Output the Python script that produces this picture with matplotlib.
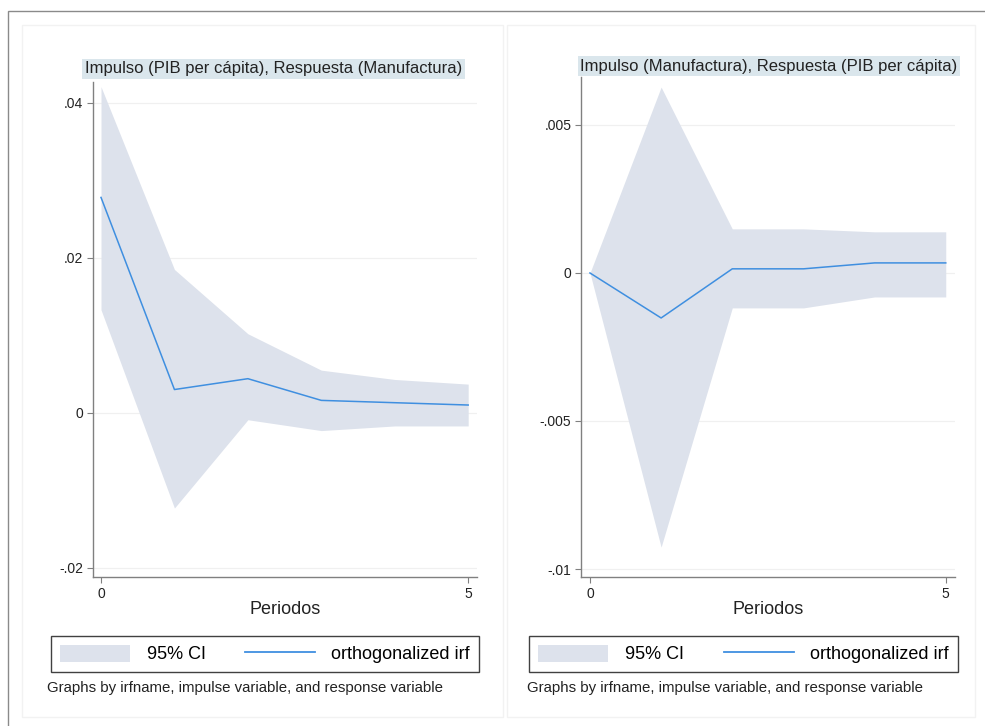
import matplotlib
matplotlib.use("Agg")
import matplotlib.pyplot as plt
from matplotlib.lines import Line2D
from matplotlib.patches import Patch, Rectangle

plt.rcParams["font.family"] = ["Liberation Sans", "DejaVu Sans"]

W, H = 985, 726

periods = [0, 1, 2, 3, 4, 5]

# Impulso PIB per cápita -> respuesta Manufactura
irf_pib_manu = [0.0278, 0.0030, 0.0044, 0.0016, 0.0013, 0.0010]
lo_pib_manu = [0.0133, -0.0123, -0.0009, -0.0023, -0.0017, -0.0017]
hi_pib_manu = [0.0421, 0.0185, 0.0102, 0.0055, 0.0043, 0.0037]

# Impulso Manufactura -> respuesta PIB per cápita
irf_manu_pib = [0.0, -0.00152, 0.00014, 0.00014, 0.00034, 0.00034]
lo_manu_pib = [0.0, -0.00926, -0.00118, -0.00118, -0.00081, -0.00081]
hi_manu_pib = [0.0, 0.00628, 0.00149, 0.00149, 0.00139, 0.00139]

titles = [
    "Impulso (PIB per cápita), Respuesta (Manufactura)",
    "Impulso (Manufactura), Respuesta (PIB per cápita)",
]
yticks_left = [-0.02, 0, 0.02, 0.04]
yticklabels_left = ["-.02", "0", ".02", ".04"]
yticks_right = [-0.01, -0.005, 0, 0.005]
yticklabels_right = ["-.01", "-.005", "0", ".005"]
xticks = [0, 5]

CI_COLOR = "#dde2ec"
IRF_COLOR = "#3f8fe0"
TITLE_BG = "#dae6ec"
AXIS_GRAY = "#808080"


def fx(px):
    return px / W


def fy(py):
    return 1 - py / H


def px_axes(fig, x0, y0, x1, y1):
    return fig.add_axes([fx(x0), fy(y1), fx(x1 - x0), (y1 - y0) / H])


fig = plt.figure(figsize=(W / 100, H / 100), dpi=100)
fig.patch.set_facecolor("white")

# outer frame and the two faint panel boxes
fig.add_artist(Rectangle((fx(8), fy(740)), fx(990), (740 - 11) / H,
                         transform=fig.transFigure, fill=False,
                         edgecolor="#8a8a8a", lw=1.0))
for x0, x1 in [(22, 503), (507, 975)]:
    fig.add_artist(Rectangle((fx(x0), fy(717)), fx(x1 - x0), (717 - 25) / H,
                             transform=fig.transFigure, fill=False,
                             edgecolor="#f2f2f2", lw=1.0))

panels = [
    dict(box=(93, 82, 477, 577), irf=irf_pib_manu, lo=lo_pib_manu, hi=hi_pib_manu,
         ylim=(-0.0212, 0.0427), xlim=(-0.109, 5.12),
         yticks=yticks_left, ylabels=yticklabels_left,
         title=titles[0], title_xy=(273.5, 69), legend=(51, 636, 479, 672),
         note_x=47),
    dict(box=(581, 77, 955, 577), irf=irf_manu_pib, lo=lo_manu_pib, hi=hi_manu_pib,
         ylim=(-0.01027, 0.00662), xlim=(-0.126, 5.13),
         yticks=yticks_right, ylabels=yticklabels_right,
         title=titles[1], title_xy=(769, 66), legend=(529, 636, 958, 672),
         note_x=527),
]

for p in panels:
    ax = px_axes(fig, *p["box"])
    ax.fill_between(periods, p["lo"], p["hi"], color=CI_COLOR, lw=0,
                    label="95% CI", zorder=2)
    ax.plot(periods, p["irf"], color=IRF_COLOR, lw=1.1,
            label="orthogonalized irf", zorder=3)
    ax.set_xlim(*p["xlim"])
    ax.set_ylim(*p["ylim"])
    ax.set_xticks(xticks)
    ax.set_xticklabels([str(t) for t in xticks])
    ax.set_yticks(p["yticks"])
    ax.set_yticklabels(p["ylabels"])
    ax.yaxis.grid(True, color="#f0f0f0", lw=0.9, zorder=0)
    ax.set_axisbelow(True)
    for side in ["top", "right"]:
        ax.spines[side].set_visible(False)
    for side in ["left", "bottom"]:
        ax.spines[side].set_color(AXIS_GRAY)
        ax.spines[side].set_linewidth(1.0)
    ax.tick_params(axis="both", colors=AXIS_GRAY, labelcolor="#222222",
                   labelsize=10, length=4, width=0.8, pad=3)
    ax.set_xlabel("Periodos", fontsize=13, color="#222222", labelpad=0)

    fig.text(fx(p["title_xy"][0]), fy(p["title_xy"][1]), p["title"],
             ha="center", va="center", fontsize=12, color="#222222",
             bbox=dict(boxstyle="square,pad=0.15", facecolor=TITLE_BG,
                       edgecolor="none"))

    lx0, ly0, lx1, ly1 = p["legend"]
    handles = [Patch(facecolor=CI_COLOR, edgecolor="none", label="95% CI"),
               Line2D([], [], color=IRF_COLOR, lw=1.3, label="orthogonalized irf")]
    leg = fig.legend(handles=handles, loc="center", ncol=2, mode="expand",
                     bbox_to_anchor=(fx(lx0), fy(ly1), fx(lx1 - lx0), (ly1 - ly0) / H),
                     fontsize=13, frameon=True, fancybox=False, handlelength=3.9,
                     handleheight=1.1, handletextpad=0.9, columnspacing=1.0,
                     borderpad=0.5, borderaxespad=0)
    leg.get_frame().set_edgecolor("#111111")
    leg.get_frame().set_linewidth(1.0)

    fig.text(fx(p["note_x"]), fy(688), "Graphs by irfname, impulse variable, and response variable",
             ha="left", va="center", fontsize=10.8, color="#222222")

fig.savefig("out.png", dpi=100, facecolor="white")
